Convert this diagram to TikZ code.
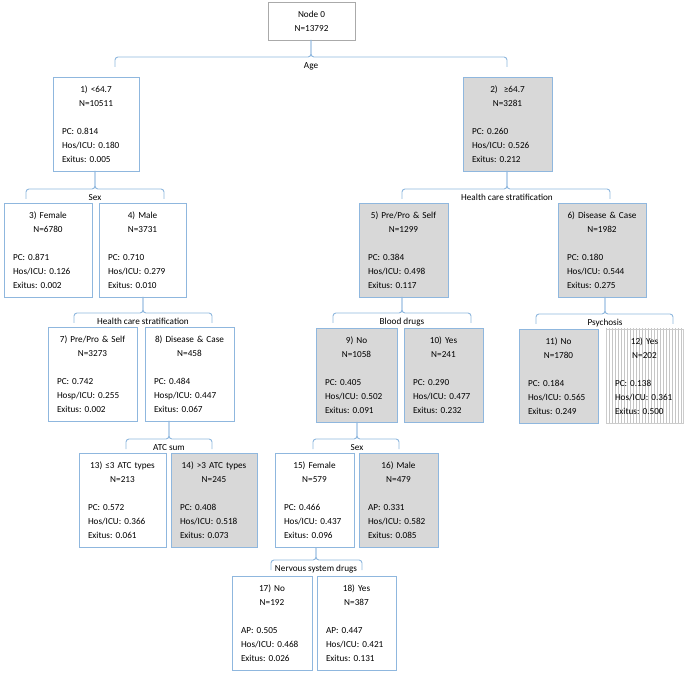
\documentclass[tikz,border=0pt]{standalone}
\usepackage{fontspec}
\setmainfont{Carlito}
\usetikzlibrary{patterns}
\frenchspacing
\definecolor{boxblue}{RGB}{143,183,222}
\definecolor{boxgray}{RGB}{216,216,216}
\definecolor{rootgray}{RGB}{170,170,170}
\newcommand{\boxtext}[5]{\makebox[\linewidth]{#1}\\\makebox[\linewidth]{#2}\\[14pt]%
  \makebox[\linewidth][l]{#3}\\\makebox[\linewidth][l]{#4}\\\makebox[\linewidth][l]{#5}}
\begin{document}
\begin{tikzpicture}[x=1pt, y=-1pt,
  every node/.style={font=\fontsize{9.2}{14}\selectfont, inner sep=0pt, outer sep=0pt},
  leaf/.style={draw=boxblue, line width=0.9pt, fill=white, anchor=north west, align=left,
    text width=#1pt, inner xsep=9pt, minimum height=94pt},
  shaded/.style={fill=boxgray},
  brk/.style={draw=boxblue, line width=0.9pt, rounded corners=3pt},
  brklabel/.style={anchor=base}]
  \useasboundingbox (0,0) rectangle (689,679);
  % Root
  \node[draw=rootgray, line width=0.9pt, anchor=north west, minimum width=87pt,
    minimum height=38pt, align=center] (n0) at (268,2) {Node 0\\N=13792};
  % Age split
  \node[leaf=68] (n1) at (53,77) {\boxtext{1) <64.7}{N=10511}{PC: 0.814}{Hos/ICU: 0.180}{Exitus: 0.005}};
  \node[leaf=71, shaded] (n2) at (463,77) {\boxtext{2)\ \ ≥64.7}{N=3281}{PC: 0.260}{Hos/ICU: 0.526}{Exitus: 0.212}};
  % Second level
  \node[leaf=70] (n3) at (4,203) {\boxtext{3) Female}{N=6780}{PC: 0.871}{Hos/ICU: 0.126}{Exitus: 0.002}};
  \node[leaf=69] (n4) at (99,203) {\boxtext{4) Male}{N=3731}{PC: 0.710}{Hos/ICU: 0.279}{Exitus: 0.010}};
  \node[leaf=71, shaded] (n5) at (359,203) {\boxtext{5) Pre/Pro \& Self}{N=1299}{PC: 0.384}{Hos/ICU: 0.498}{Exitus: 0.117}};
  \node[leaf=70, shaded] (n6) at (558,203) {\boxtext{6) Disease \& Case}{N=1982}{PC: 0.180}{Hos/ICU: 0.544}{Exitus: 0.275}};
  % Third level
  \node[leaf=71] (n7) at (48,327) {\boxtext{7) Pre/Pro \& Self}{N=3273}{PC: 0.742}{Hosp/ICU: 0.255}{Exitus: 0.002}};
  \node[leaf=71] (n8) at (145,327) {\boxtext{8) Disease \& Case}{N=458}{PC: 0.484}{Hosp/ICU: 0.447}{Exitus: 0.067}};
  \node[leaf=63, shaded] (n9) at (316,328) {\boxtext{9) No}{N=1058}{PC: 0.405}{Hos/ICU: 0.502}{Exitus: 0.091}};
  \node[leaf=61, shaded] (n10) at (404,328) {\boxtext{10) Yes}{N=241}{PC: 0.290}{Hos/ICU: 0.477}{Exitus: 0.232}};
  \node[leaf=61, shaded] (n11) at (519,329) {\boxtext{11) No}{N=1780}{PC: 0.184}{Hos/ICU: 0.565}{Exitus: 0.249}};
  \node[leaf=59, draw=gray!40, pattern=vertical lines, pattern color=gray!45] (n12) at (606,329)
    {\boxtext{12) Yes}{N=202}{PC: 0.138}{Hos/ICU: 0.361}{Exitus: 0.500}};
  % Fourth level
  \node[leaf=69] (n13) at (79,453) {\boxtext{13) ≤3 ATC types}{N=213}{PC: 0.572}{Hos/ICU: 0.366}{Exitus: 0.061}};
  \node[leaf=68, shaded] (n14) at (171,453) {\boxtext{14) >3 ATC types}{N=245}{PC: 0.408}{Hos/ICU: 0.518}{Exitus: 0.073}};
  \node[leaf=61] (n15) at (275,453) {\boxtext{15) Female}{N=579}{PC: 0.466}{Hos/ICU: 0.437}{Exitus: 0.096}};
  \node[leaf=61, shaded] (n16) at (359,453) {\boxtext{16) Male}{N=479}{AP: 0.331}{Hos/ICU: 0.582}{Exitus: 0.085}};
  % Fifth level
  \node[leaf=62] (n17) at (232,576) {\boxtext{17) No}{N=192}{AP: 0.505}{Hos/ICU: 0.468}{Exitus: 0.026}};
  \node[leaf=61] (n18) at (317,576) {\boxtext{18) Yes}{N=387}{AP: 0.447}{Hos/ICU: 0.421}{Exitus: 0.131}};
  % Split brackets: parent/left/mid/right/line y/label
  \foreach \p/\l/\m/\r/\y/\t in {n0/115/311/507/57/Age, n1/26/95/164/189/Sex,
      n4/74/143/212/313/Health care stratification, n2/402/507/610/189/Health care stratification,
      n5/333/402/471/313/Blood drugs, n6/536/605/673/314/Psychosis,
      n8/126/169/212/439/ATC sum, n9/313/357/399/439/Sex,
      n15/271/316/362/560/Nervous system drugs} {
    \coordinate (\p-m) at (\m,\y);
    \coordinate (\p-a) at (\l,\y+10);
    \coordinate (\p-b) at (\r,\y+10);
    \draw[brk] (\p-a) |- (\p-m) -- (\p-m |- \p.south);
    \draw[brk] (\p-b) |- (\p-m) -- (\p-m |- \p.south);
    \node[brklabel] (\p-lab) at (\m,\y+11.5) {\t};
  }
\end{tikzpicture}
\end{document}
